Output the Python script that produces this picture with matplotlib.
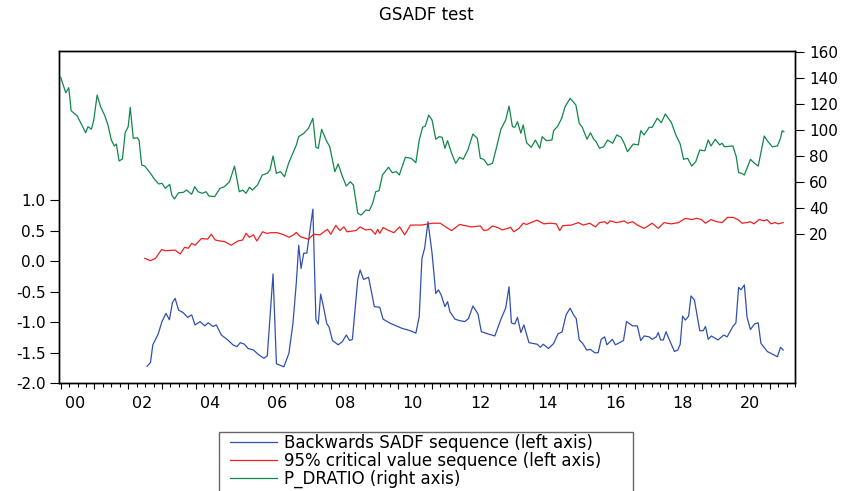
import matplotlib
matplotlib.use("Agg")
import matplotlib.pyplot as plt
from matplotlib.patches import Rectangle

plt.rcParams['font.family'] = ['DejaVu Sans']
plt.rcParams['axes.unicode_minus'] = False

# --- data (x in fractional years) ---
green_x = [2000.0, 2000.15, 2000.24, 2000.31, 2000.49, 2000.61, 2000.74, 2000.81, 2000.91, 2000.98,
           2001.08, 2001.18, 2001.30, 2001.40, 2001.50, 2001.59, 2001.65, 2001.73, 2001.83, 2001.91,
           2002.0, 2002.06, 2002.15, 2002.27, 2002.32, 2002.40, 2002.49, 2002.66, 2002.76, 2002.90,
           2003.0, 2003.1, 2003.23, 2003.29, 2003.37, 2003.49, 2003.63, 2003.73, 2003.88, 2003.97,
           2004.07, 2004.19, 2004.31, 2004.39, 2004.56, 2004.72, 2004.85, 2005.0, 2005.15, 2005.29,
           2005.39, 2005.49, 2005.59, 2005.68, 2005.83, 2005.97, 2006.12, 2006.2, 2006.29, 2006.39,
           2006.51, 2006.63, 2006.75, 2006.98, 2007.05, 2007.2, 2007.34, 2007.47, 2007.56, 2007.63,
           2007.73, 2007.86, 2007.97, 2008.12, 2008.22, 2008.34, 2008.46, 2008.58, 2008.67, 2008.8,
           2008.9, 2009.04, 2009.14, 2009.24, 2009.33, 2009.43, 2009.53, 2009.71, 2009.82, 2009.94,
           2010.03, 2010.21, 2010.38, 2010.52, 2010.62, 2010.72, 2010.8, 2010.9, 2011.0, 2011.11,
           2011.21, 2011.3, 2011.38, 2011.46, 2011.58, 2011.7, 2011.82, 2011.92, 2012.06, 2012.21,
           2012.34, 2012.43, 2012.53, 2012.65, 2012.79, 2012.89, 2013.04, 2013.18, 2013.28, 2013.38,
           2013.45, 2013.53, 2013.63, 2013.7, 2013.8, 2013.94, 2014.06, 2014.19, 2014.26, 2014.39,
           2014.55, 2014.6, 2014.72, 2014.84, 2014.94, 2015.09, 2015.26, 2015.36, 2015.45, 2015.59,
           2015.69, 2015.79, 2015.86, 2015.96, 2016.08, 2016.2, 2016.35, 2016.47, 2016.6, 2016.69,
           2016.79, 2016.96, 2017.11, 2017.18, 2017.28, 2017.43, 2017.52, 2017.67, 2017.79, 2017.91,
           2018.09, 2018.22, 2018.35, 2018.45, 2018.57, 2018.69, 2018.81, 2018.93, 2019.08, 2019.18,
           2019.26, 2019.39, 2019.52, 2019.59, 2019.66, 2019.91, 2020.01, 2020.08, 2020.17, 2020.25,
           2020.43, 2020.53, 2020.66, 2020.84, 2020.95, 2021.08, 2021.23, 2021.32, 2021.37, 2021.42]
green_y = [140.8, 128.9, 132.8, 115, 111, 104.8, 98, 102.7, 100.7, 107.8,
           127.1, 118.1, 111.7, 104, 92.4, 87.8, 89.3, 76.2, 77.8, 98,
           102.7, 117.6, 93.7, 94.2, 92.4, 73.1, 72.3, 66.7, 62.8, 58.5,
           59, 55.1, 58.2, 50, 46.9, 51.7, 52, 53.8, 50.5, 56.4,
           52.5, 51.3, 52.5, 49.2, 48.7, 55.1, 56.4, 60.2, 72.3, 52.5,
           53.8, 51.3, 55.9, 53.8, 57.7, 65.4, 66.7, 69.3, 80.1, 66.7,
           68, 64.1, 74.4, 88.6, 95, 97.6, 101.4, 109.2, 86.8, 86,
           100.7, 92.4, 87.2, 68, 73.9, 64.6, 56.9, 60.2, 57.7, 35.9,
           34.5, 38.4, 37.9, 43.5, 52.5, 53.3, 65.4, 71.4, 67.2, 68,
           65.4, 79.1, 78.3, 74.9, 92.4, 102.2, 103.2, 111.7, 107.8, 93,
           95, 94.5, 86, 91.9, 82.1, 74.4, 79.1, 77.5, 84.7, 97,
           93.7, 78.3, 77.5, 73.1, 74.4, 84.7, 100.7, 107.8, 118.6, 102.7,
           102.2, 106.5, 97.6, 104, 90.3, 86.8, 92.4, 86, 95, 91.9,
           92.4, 99.6, 103, 109.2, 118.1, 124.6, 119.4, 105.3, 102.2, 93,
           98, 93, 91.1, 86, 87.2, 92.4, 89.9, 96.3, 94.5, 89.9,
           83.4, 89.3, 88.6, 99.6, 96.3, 102.2, 102.2, 109.2, 105.8, 112.5,
           105.8, 96.3, 89.3, 77.5, 78.3, 72.3, 75.7, 84.7, 84.1, 92.4,
           87.8, 93, 88.6, 89.9, 87.2, 87.8, 79.5, 67.2, 66.7, 65.4,
           77.5, 74.9, 72.3, 95.5, 91.1, 87.2, 87.8, 93.7, 99.6, 98.8]

blue_x = [2002.56, 2002.66, 2002.73, 2002.89, 2003.0, 2003.12, 2003.22, 2003.31, 2003.39, 2003.49,
          2003.63, 2003.76, 2003.88, 2003.98, 2004.13, 2004.27, 2004.37, 2004.51, 2004.61, 2004.76,
          2004.95, 2005.1, 2005.22, 2005.32, 2005.44, 2005.55, 2005.71, 2005.88, 2006.02, 2006.12,
          2006.29, 2006.39, 2006.61, 2006.76, 2006.88, 2006.98, 2007.05, 2007.12, 2007.2, 2007.29,
          2007.47, 2007.56, 2007.63, 2007.7, 2007.78, 2007.88, 2007.95, 2008.05, 2008.22, 2008.34,
          2008.46, 2008.56, 2008.64, 2008.8, 2008.87, 2008.97, 2009.12, 2009.29, 2009.45, 2009.55,
          2009.77, 2010.11, 2010.36, 2010.52, 2010.62, 2010.7, 2010.78, 2010.88, 2011.0, 2011.11,
          2011.19, 2011.27, 2011.38, 2011.46, 2011.53, 2011.68, 2011.82, 2011.97, 2012.08, 2012.21,
          2012.36, 2012.46, 2012.65, 2012.86, 2013.04, 2013.18, 2013.28, 2013.35, 2013.45, 2013.53,
          2013.63, 2013.72, 2013.87, 2014.11, 2014.21, 2014.29, 2014.45, 2014.6, 2014.73, 2014.85,
          2014.97, 2015.09, 2015.19, 2015.27, 2015.36, 2015.46, 2015.58, 2015.69, 2015.82, 2015.92,
          2016.01, 2016.11, 2016.18, 2016.34, 2016.43, 2016.55, 2016.67, 2016.76, 2016.94, 2017.08,
          2017.18, 2017.28, 2017.43, 2017.52, 2017.64, 2017.7, 2017.77, 2017.85, 2017.93, 2018.03,
          2018.18, 2018.28, 2018.35, 2018.42, 2018.5, 2018.6, 2018.67, 2018.77, 2018.93, 2019.03,
          2019.1, 2019.18, 2019.27, 2019.47, 2019.64, 2019.74, 2019.91, 2020.0, 2020.08, 2020.15,
          2020.25, 2020.33, 2020.43, 2020.55, 2020.66, 2020.74, 2020.93, 2021.23, 2021.32, 2021.4]
blue_y = [-1.72, -1.66, -1.37, -1.19, -0.99, -0.855, -0.96, -0.68, -0.61, -0.80,
          -0.845, -0.92, -0.88, -1.045, -0.99, -1.06, -1.01, -1.07, -1.045, -1.21,
          -1.29, -1.37, -1.40, -1.335, -1.36, -1.43, -1.455, -1.54, -1.59, -1.55,
          -0.21, -1.68, -1.73, -1.51, -1.02, -0.35, 0.26, -0.12, 0.13, 0.13,
          0.85, -0.96, -1.03, -0.54, -0.735, -1.02, -1.08, -1.30, -1.37, -1.32,
          -1.21, -1.30, -1.28, -0.30, -0.145, -0.30, -0.265, -0.745, -0.755, -0.95,
          -1.02, -1.10, -1.14, -1.18, -0.91, 0.045, 0.21, 0.645, 0.128, -0.53,
          -0.47, -0.555, -0.745, -0.665, -0.83, -0.95, -0.975, -0.99, -0.94, -0.735,
          -0.865, -1.155, -1.19, -1.225, -0.95, -0.77, -0.42, -1.01, -1.03, -0.92,
          -1.17, -1.045, -1.335, -1.36, -1.41, -1.36, -1.43, -1.35, -1.19, -1.16,
          -0.88, -0.77, -0.88, -0.94, -1.29, -1.345, -1.455, -1.445, -1.50, -1.50,
          -1.28, -1.24, -1.37, -1.28, -1.37, -1.335, -1.30, -0.99, -1.06, -1.06,
          -1.30, -1.225, -1.24, -1.28, -1.24, -1.17, -1.29, -1.29, -1.155, -1.29,
          -1.48, -1.455, -1.36, -0.90, -0.965, -0.90, -0.57, -0.635, -1.14, -1.14,
          -1.07, -1.28, -1.225, -1.29, -1.21, -1.24, -1.07, -1.01, -0.43, -0.47,
          -0.39, -0.92, -1.12, -1.03, -1.01, -1.345, -1.48, -1.565, -1.41, -1.455]

red_x = [2002.49, 2002.66, 2002.81, 2002.99, 2003.1, 2003.39, 2003.54, 2003.67, 2003.78, 2003.88,
         2003.98, 2004.17, 2004.35, 2004.46, 2004.58, 2004.71, 2004.85, 2005.05, 2005.25, 2005.39,
         2005.49, 2005.59, 2005.71, 2005.81, 2005.98, 2006.1, 2006.24, 2006.42, 2006.61, 2006.76,
         2006.9, 2006.98, 2007.1, 2007.34, 2007.49, 2007.68, 2007.9, 2008.0, 2008.15, 2008.27,
         2008.39, 2008.48, 2008.75, 2008.87, 2009.03, 2009.19, 2009.32, 2009.39, 2009.45, 2009.55,
         2009.68, 2009.87, 2010.04, 2010.19, 2010.36, 2010.7, 2011.0, 2011.24, 2011.43, 2011.58,
         2011.72, 2011.82, 2012.16, 2012.43, 2012.53, 2012.65, 2012.79, 2012.94, 2013.08, 2013.33,
         2013.42, 2013.57, 2013.7, 2013.8, 2013.93, 2014.11, 2014.31, 2014.5, 2014.68, 2014.78,
         2014.87, 2015.13, 2015.33, 2015.48, 2015.67, 2015.84, 2015.96, 2016.11, 2016.19, 2016.27,
         2016.45, 2016.6, 2016.69, 2016.79, 2016.94, 2017.08, 2017.28, 2017.52, 2017.7, 2017.87,
         2017.96, 2018.09, 2018.3, 2018.5, 2018.69, 2018.84, 2018.98, 2019.1, 2019.26, 2019.43,
         2019.59, 2019.75, 2019.92, 2020.06, 2020.18, 2020.33, 2020.43, 2020.53, 2020.69, 2020.84,
         2020.92, 2021.04, 2021.16, 2021.25, 2021.4]
red_y = [0.046, 0.007, 0.046, 0.19, 0.17, 0.18, 0.116, 0.226, 0.21, 0.29,
         0.26, 0.37, 0.36, 0.44, 0.345, 0.33, 0.32, 0.26, 0.33, 0.345,
         0.455, 0.39, 0.43, 0.33, 0.48, 0.455, 0.465, 0.465, 0.43, 0.39,
         0.43, 0.47, 0.40, 0.357, 0.44, 0.43, 0.52, 0.44, 0.585, 0.50,
         0.56, 0.48, 0.50, 0.56, 0.51, 0.52, 0.44, 0.52, 0.455, 0.55,
         0.51, 0.465, 0.56, 0.43, 0.59, 0.59, 0.62, 0.62, 0.55, 0.50,
         0.56, 0.60, 0.56, 0.575, 0.50, 0.51, 0.575, 0.55, 0.51, 0.55,
         0.48, 0.535, 0.62, 0.60, 0.63, 0.67, 0.61, 0.62, 0.61, 0.50,
         0.58, 0.59, 0.63, 0.59, 0.62, 0.56, 0.63, 0.645, 0.61, 0.66,
         0.63, 0.645, 0.66, 0.62, 0.645, 0.59, 0.535, 0.62, 0.535, 0.63,
         0.62, 0.61, 0.63, 0.70, 0.68, 0.70, 0.68, 0.62, 0.68, 0.645,
         0.63, 0.715, 0.715, 0.68, 0.62, 0.63, 0.645, 0.61, 0.68, 0.66,
         0.68, 0.61, 0.63, 0.61, 0.63]

year_labels = ['00', '02', '04', '06', '08', '10', '12', '14', '16', '18', '20']
left_ticks = [-2.0, -1.5, -1.0, -0.5, 0.0, 0.5, 1.0]
right_ticks = [20, 40, 60, 80, 100, 120, 140, 160]
legend_labels = ['Backwards SADF sequence (left axis)',
                 '95% critical value sequence (left axis)',
                 'P_DRATIO (right axis)']

W, H = 847, 491
fig = plt.figure(figsize=(W / 100, H / 100), dpi=100)
ax = fig.add_axes([58.6 / W, 1 - 383.3 / H, (795 - 58.6) / W, (383.3 - 51.3) / H])
ax2 = ax.twinx()

lb, = ax.plot(blue_x, blue_y, color='#3050b0', lw=0.9)
lr, = ax.plot(red_x, red_y, color='#f02020', lw=0.9)
lg, = ax2.plot(green_x, green_y, color='#10884a', lw=0.9)

ax.set_xlim(2000 + (58.6 - 60.7) / 34.2, 2000 + (795 - 60.7) / 34.2)
ax.set_ylim(-2.0, 3.434)
ax2.set_ylim(-95.3, 160.85)

# year / quarter ticks, labels placed between year ticks
ax.set_xticks(range(2000, 2022))
ax.set_xticks([y + q / 4 for y in range(2000, 2022) for q in range(4)], minor=True)
ax.tick_params(axis='x', which='major', length=4, width=0.8, labelbottom=False)
ax.tick_params(axis='x', which='minor', length=2.6, width=0.8)
sec = ax.secondary_xaxis('bottom')
sec.set_xticks([2000 + 2 * i + 0.42 for i in range(len(year_labels))], labels=year_labels)
sec.tick_params(length=0, pad=9, labelsize=11.5)
sec.spines['bottom'].set_visible(False)

ax.set_yticks(left_ticks, labels=['%.1f' % v for v in left_ticks])
ax.tick_params(axis='y', length=6.5, width=0.8, pad=3, labelsize=11)
ax2.set_yticks(right_ticks, labels=[str(v) for v in right_ticks])
ax2.tick_params(axis='y', length=6.5, width=0.8, pad=3.5, labelsize=11)
ax.tick_params(axis='x', which='both', top=False)

for a in (ax, ax2):
    for s in a.spines.values():
        s.set_linewidth(1.0)

fig.text((58.6 + 795) / 2 / W, 1 - 15 / H, 'GSADF test', ha='center', va='center', fontsize=12)

# legend box below the plot
fig.patches.append(Rectangle((219.3 / W, -0.02), (633 - 219.3) / W, 0.02 + 1 - 431.7 / H,
                             transform=fig.transFigure, fill=False, edgecolor='#666666', lw=1.0))
fs = 12
fs_px = fs * 100 / 72
fig.legend([lb, lr, lg], legend_labels, loc='upper left', bbox_to_anchor=(230 / W, 1 - 433.5 / H),
           frameon=False, fontsize=fs, borderpad=0, borderaxespad=0, labelspacing=0,
           handlelength=46.7 / fs_px, handletextpad=7.3 / fs_px)

fig.savefig('out.png', dpi=100)
